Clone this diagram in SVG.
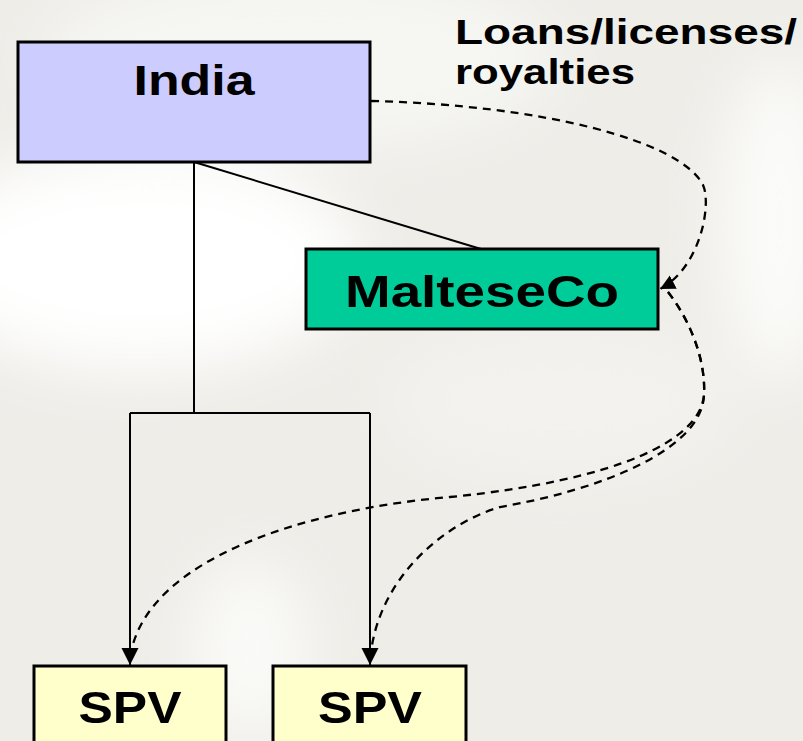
<svg xmlns="http://www.w3.org/2000/svg" width="803" height="741" viewBox="0 0 803 741">
  <defs>
    <filter id="blur" x="-50%" y="-50%" width="200%" height="200%">
      <feGaussianBlur stdDeviation="30"/>
    </filter>
    <marker id="arr" markerUnits="userSpaceOnUse" markerWidth="20" markerHeight="20" refX="17" refY="8.5" orient="auto">
      <path d="M0,0 L17,8.5 L0,17 z" fill="#000"/>
    </marker>
    <marker id="arrs" markerUnits="userSpaceOnUse" markerWidth="18" markerHeight="18" refX="15" refY="7.5" orient="auto">
      <path d="M0,0 L15,7.5 L0,15 z" fill="#000"/>
    </marker>
  </defs>
  <style>
    .box { stroke: #000; stroke-width: 3; }
    .lbl { font-family: "Liberation Sans", Arial, Helvetica, sans-serif; font-weight: bold; fill: #000; }
    .solid { fill: none; stroke: #000; stroke-width: 2; }
    .dash { fill: none; stroke: #000; stroke-width: 2.3; stroke-dasharray: 8 6; }
  </style>

  <!-- background -->
  <g id="background">
    <rect x="0" y="0" width="803" height="741" fill="#eeede8"/>
    <g filter="url(#blur)">
      <ellipse cx="140" cy="260" rx="220" ry="110" fill="#ffffff"/>
      <ellipse cx="300" cy="60" rx="260" ry="90" fill="#f6f6f3"/>
      <ellipse cx="780" cy="220" rx="60" ry="160" fill="#fbfbf9"/>
      <ellipse cx="250" cy="650" rx="60" ry="90" fill="#fafaf8"/>
      <ellipse cx="560" cy="400" rx="180" ry="80" fill="#f3f2ee"/>
    </g>
  </g>

  <!-- connectors -->
  <g id="connectors">
    <path class="solid" d="M194,162 L481,249"/>
    <path class="solid" d="M194,162 L194,413"/>
    <path class="solid" d="M130,413 L370,413"/>
    <path class="solid" d="M130,413 L130,665" marker-end="url(#arr)"/>
    <path class="solid" d="M370,413 L370,665" marker-end="url(#arr)"/>
    <path class="dash" d="M371,101 C540,105 680,140 703,185 C712,205 700,268 660,289" marker-end="url(#arrs)"/>
    <path class="dash" d="M668,292 C690,320 706,360 704,395 C700,440 620,480 450,497 C300,510 150,560 131,652"/>
    <path class="dash" d="M668,292 C690,320 706,360 704,395 C702,450 600,490 500,507 C440,525 380,580 371,652"/>
  </g>

  <!-- nodes -->
  <g id="india">
    <rect class="box" x="18" y="42" width="352" height="120" fill="#ccccff"/>
    <text class="lbl" x="194" y="95" font-size="42" text-anchor="middle" textLength="121" lengthAdjust="spacingAndGlyphs">India</text>
  </g>
  <g id="maltese">
    <rect class="box" x="306" y="249" width="352" height="80" fill="#00cc99"/>
    <text class="lbl" x="482" y="307" font-size="45" text-anchor="middle" textLength="274" lengthAdjust="spacingAndGlyphs">MalteseCo</text>
  </g>
  <g id="spv1">
    <rect class="box" x="34" y="666" width="192" height="90" fill="#ffffcc"/>
    <text class="lbl" x="130" y="723" font-size="45" text-anchor="middle" textLength="103" lengthAdjust="spacingAndGlyphs">SPV</text>
  </g>
  <g id="spv2">
    <rect class="box" x="273" y="666" width="193" height="90" fill="#ffffcc"/>
    <text class="lbl" x="370" y="723" font-size="45" text-anchor="middle" textLength="104" lengthAdjust="spacingAndGlyphs">SPV</text>
  </g>
  <g id="label">
    <text class="lbl" x="455" y="44" font-size="35" textLength="342" lengthAdjust="spacingAndGlyphs">Loans/licenses/</text>
    <text class="lbl" x="455" y="84" font-size="35" textLength="180" lengthAdjust="spacingAndGlyphs">royalties</text>
  </g>
</svg>
